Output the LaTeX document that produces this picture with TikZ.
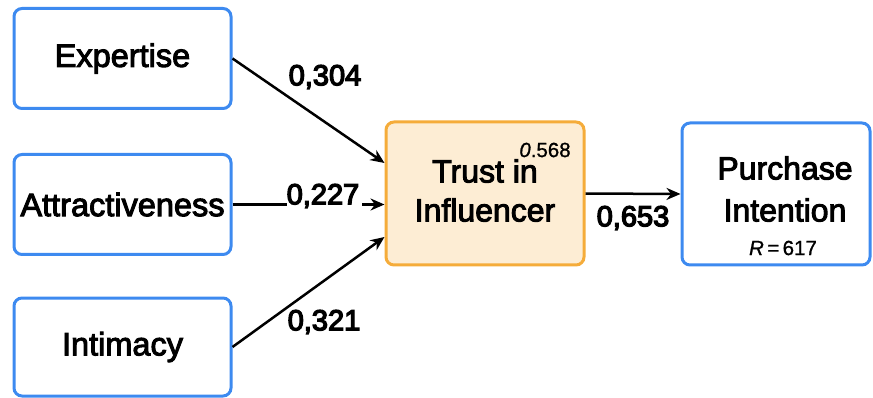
\documentclass[tikz,border=0pt]{standalone}
\usepackage{fontspec}
\setmainfont{Liberation Sans}[FakeBold=3]
\newfontfamily\coeffont{Liberation Sans}[FakeBold=4.5]
\newfontfamily\smallfont{Liberation Sans}[FakeBold=1]
\usetikzlibrary{arrows.meta}
\definecolor{boxblue}{HTML}{3D8AF0}
\definecolor{boxorange}{HTML}{F5AC3A}
\definecolor{fillorange}{HTML}{FDEDD4}
\tikzset{
  varbox/.style={draw=boxblue, line width=3pt, rounded corners=8pt, fill=white,
    align=center, font=\fontsize{32.5}{38}\selectfont, inner sep=0pt},
  trustbox/.style={varbox, draw=boxorange, fill=fillorange},
  boxtext/.style={align=center, font=\fontsize{32}{39}\selectfont, inner sep=0pt},
  arr/.style={line width=2.5pt, -{Stealth[length=14pt,width=12pt]}},
  plain/.style={line width=2.5pt},
  coef/.style={font=\coeffont\fontsize{29}{32}\selectfont, inner sep=0pt},
  small/.style={font=\smallfont\fontsize{20.5}{24}\selectfont, inner sep=0pt}
}
\begin{document}
\begin{tikzpicture}[x=1pt,y=-1pt]
\useasboundingbox (0,0) rectangle (873,398);
\node[varbox, minimum width=217pt, minimum height=100pt] (exp) at (122.5,58.5) {Expertise};
\node[varbox, minimum width=217pt, minimum height=100pt] (att) at (122.5,204.5) {Attractiveness};
\node[varbox, minimum width=217pt, minimum height=98pt] (int) at (122.5,347) {Intimacy};
\node[trustbox, minimum width=198pt, minimum height=143pt] (trust) at (485,193.5) {};
\node[boxtext] (trusttxt) at (485,190.5) {Trust in\\Influencer};
\node[varbox, minimum width=188pt, minimum height=142pt] (pur) at (776,194) {};
\node[boxtext, font=\fontsize{32}{42}\selectfont] (purtxt) at (785,189) {Purchase\\Intention};
\node[small] (r) at (783,248) {\textit{R}\,=\,617};
\node[small] (r2) at (545,150) {\textit{0}.568};

\node[coef] (l304) at (325,77) {0,304};
\node[coef] (l227) at (323,196) {0,227};
\node[coef] (l321) at (324,322) {0,321};
\node[coef] (l653) at (633,218) {0,653};

\draw[arr] (exp.east) -- ([yshift=30.5pt]trust.west);
\draw[plain] (att.east) -- (att.east -| l227.west);
\draw[arr] ([xshift=3pt]att.east -| l227.east) -- (att.east -| trust.west);
\draw[arr] (int.east) -- ([yshift=-43.5pt]trust.west);
\draw[arr] (trust.east) -- (pur.west);
\end{tikzpicture}
\end{document}
